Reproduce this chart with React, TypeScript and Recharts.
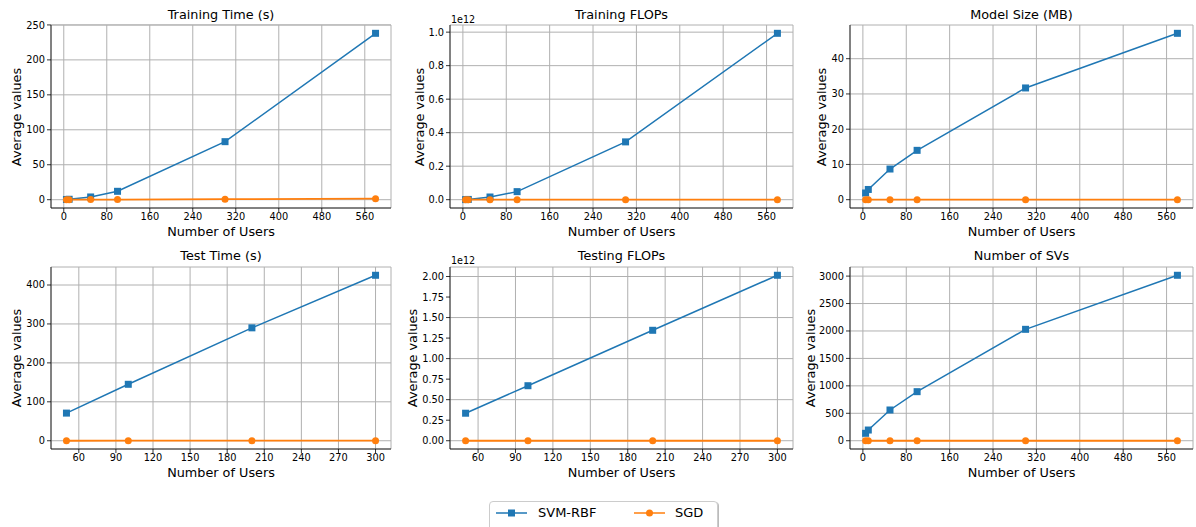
import React from 'react';
import { LineChart, Line, XAxis, YAxis, CartesianGrid } from 'recharts';

// number of users on the x axis
const usersAll = [5, 10, 50, 100, 300, 580];
const usersTest = [50, 100, 200, 300];

// series values
const svmTrainTime = [0.3, 0.6, 3.9, 12.0, 83.0, 238.0];
const sgdTrainTime = [0.01, 0.02, 0.1, 0.2, 0.7, 1.5];
const svmTrainFlops = [0.0005e12, 0.0015e12, 0.016e12, 0.048e12, 0.345e12, 0.993e12];
const sgdTrainFlops = [1e6, 2e6, 1e7, 2e7, 6e7, 1.2e8];
const svmModelSize = [1.9, 2.9, 8.7, 14.0, 31.7, 47.2];
const sgdModelSize = [0.001, 0.001, 0.001, 0.001, 0.001, 0.001];
const svmTestTime = [71, 145, 290, 425];
const sgdTestTime = [0.05, 0.1, 0.2, 0.3];
const svmTestFlops = [0.335e12, 0.67e12, 1.345e12, 2.015e12];
const sgdTestFlops = [1e6, 2e6, 4e6, 6e6];
const svmNumSVs = [135, 195, 560, 894, 2030, 3015];
const sgdNumSVs = [0, 0, 0, 0, 0, 0];

// tick labels
const xTicksAll = [0, 80, 160, 240, 320, 400, 480, 560];
const xTicksTest = [60, 90, 120, 150, 180, 210, 240, 270, 300];
const yTicksTrainTime = [0, 50, 100, 150, 200, 250];
const yTicksTrainFlops = [0, 0.2e12, 0.4e12, 0.6e12, 0.8e12, 1.0e12];
const yTicksModelSize = [0, 10, 20, 30, 40];
const yTicksTestTime = [0, 100, 200, 300, 400];
const yTicksTestFlops = [0, 0.25e12, 0.5e12, 0.75e12, 1.0e12, 1.25e12, 1.5e12, 1.75e12, 2.0e12];
const yTicksSVs = [0, 500, 1000, 1500, 2000, 2500, 3000];

const BLUE = '#1f77b4';
const ORANGE = '#ff7f0e';
const FONT = '"DejaVu Sans", sans-serif';

// matplotlib style 5% margins
const pad = (vals: number[]): [number, number] => {
  const lo = Math.min(...vals);
  const hi = Math.max(...vals);
  const m = (hi - lo) * 0.05;
  return [lo - m, hi + m];
};

const SquareDot = (props: any) => {
  const { cx, cy, index } = props;
  if (cx == null || cy == null) return <g key={index} />;
  return <rect key={index} x={cx - 3.5} y={cy - 3.5} width={7} height={7} fill={BLUE} />;
};

const CircleDot = (props: any) => {
  const { cx, cy, index } = props;
  if (cx == null || cy == null) return <g key={index} />;
  return <circle key={index} cx={cx} cy={cy} r={3.5} fill={ORANGE} />;
};

type PanelProps = {
  title: string;
  x: number;
  y: number;
  w: number;
  h: number;
  users: number[];
  svm: number[];
  sgd: number[];
  xTicks: number[];
  yTicks: number[];
  fmt: (v: number) => string;
  yLabelX: number;
  titleY: number;
  xLabelY: number;
  offsetText?: string;
  offsetY?: number;
};

const Panel = (p: PanelProps) => {
  const data = p.users.map((u, i) => ({ users: u, svm: p.svm[i], sgd: p.sgd[i] }));
  const xDomain = pad(p.users);
  const yDomain = pad([...p.svm, ...p.sgd]);
  const yw = 50;
  const top = 5;
  const tickStyle = { fontSize: 9.8, fill: '#000', fontFamily: FONT };
  const line = { stroke: '#000', strokeWidth: 0.8 };

  return (
    <>
      <div style={{ position: 'absolute', left: p.x - yw, top: p.y - top }}>
        <LineChart
          width={p.w + yw + 5}
          height={p.h + top + 30}
          data={data}
          margin={{ top, right: 5, left: 0, bottom: 0 }}
        >
          <CartesianGrid stroke="#b0b0b0" strokeWidth={1} />
          <XAxis
            dataKey="users"
            type="number"
            domain={xDomain}
            allowDataOverflow
            ticks={p.xTicks}
            height={30}
            tick={tickStyle}
            tickSize={4}
            tickMargin={1}
            tickLine={line}
            axisLine={line}
          />
          <YAxis
            type="number"
            domain={yDomain}
            allowDataOverflow
            ticks={p.yTicks}
            width={yw}
            tick={tickStyle}
            tickFormatter={p.fmt}
            tickSize={4}
            tickMargin={2}
            tickLine={line}
            axisLine={line}
          />
          <XAxis xAxisId="t" orientation="top" type="number" domain={[0, 1]} height={0} tick={false} tickLine={false} axisLine={line} />
          <YAxis yAxisId="r" orientation="right" type="number" domain={[0, 1]} width={0} tick={false} tickLine={false} axisLine={line} />
          <Line
            dataKey="svm"
            stroke={BLUE}
            strokeWidth={1.5}
            dot={SquareDot}
            activeDot={false}
            isAnimationActive={false}
          />
          <Line
            dataKey="sgd"
            stroke={ORANGE}
            strokeWidth={1.8}
            dot={CircleDot}
            activeDot={false}
            isAnimationActive={false}
          />
        </LineChart>
      </div>
      <div
        style={{
          position: 'absolute',
          left: p.x,
          width: p.w,
          top: p.titleY - 10,
          height: 20,
          lineHeight: '20px',
          textAlign: 'center',
          fontSize: 12.8,
        }}
      >
        {p.title}
      </div>
      <div
        style={{
          position: 'absolute',
          left: p.x,
          width: p.w,
          top: p.xLabelY - 10,
          height: 20,
          lineHeight: '20px',
          textAlign: 'center',
          fontSize: 12.8,
        }}
      >
        Number of Users
      </div>
      <div
        style={{
          position: 'absolute',
          left: p.yLabelX,
          top: p.y + p.h / 2,
          transform: 'translate(-50%, -50%) rotate(-90deg)',
          whiteSpace: 'nowrap',
          fontSize: 12.8,
          lineHeight: '16px',
        }}
      >
        Average values
      </div>
      {p.offsetText && (
        <div
          style={{
            position: 'absolute',
            left: p.x + 1,
            top: (p.offsetY ?? 0) - 7,
            height: 14,
            lineHeight: '14px',
            fontSize: 9.6,
          }}
        >
          {p.offsetText}
        </div>
      )}
    </>
  );
};

const fmtInt = (v: number) => `${Math.round(v)}`;
const fmtE12a = (v: number) => (v / 1e12).toFixed(1);
const fmtE12b = (v: number) => (v / 1e12).toFixed(2);

const Legend = () => (
  <div
    style={{
      position: 'absolute',
      left: 489,
      top: 501,
      width: 227,
      height: 34,
      border: '1px solid #cccccc',
      borderRadius: 4,
      boxShadow: '1px 1px 0 #bbbbbb',
      background: '#fff',
      fontSize: 13,
    }}
  >
    <svg width={40} height={14} style={{ position: 'absolute', left: 5, top: 4 }}>
      <line x1={1} y1={7} x2={32} y2={7} stroke={BLUE} strokeWidth={1.5} />
      <rect x={13} y={3.5} width={7} height={7} fill={BLUE} />
    </svg>
    <span style={{ position: 'absolute', left: 48, top: 2, lineHeight: '18px' }}>SVM-RBF</span>
    <svg width={40} height={14} style={{ position: 'absolute', left: 143, top: 4 }}>
      <line x1={1} y1={7} x2={32} y2={7} stroke={ORANGE} strokeWidth={1.5} />
      <circle cx={16.5} cy={7} r={3.5} fill={ORANGE} />
    </svg>
    <span style={{ position: 'absolute', left: 185, top: 2, lineHeight: '18px' }}>SGD</span>
  </div>
);

export default function App() {
  return (
    <div
      style={{
        position: 'absolute',
        left: 0,
        top: 0,
        width: 1196,
        height: 527,
        overflow: 'hidden',
        background: '#fff',
        fontFamily: FONT,
        color: '#000',
      }}
    >
      <Panel title="Training Time (s)" x={51} y={25} w={340} h={183} users={usersAll}
        svm={svmTrainTime} sgd={sgdTrainTime} xTicks={xTicksAll} yTicks={yTicksTrainTime}
        fmt={fmtInt} yLabelX={17} titleY={15} xLabelY={232} />
      <Panel title="Training FLOPs" x={450} y={25} w={343} h={183} users={usersAll}
        svm={svmTrainFlops} sgd={sgdTrainFlops} xTicks={xTicksAll} yTicks={yTicksTrainFlops}
        fmt={fmtE12a} yLabelX={420} titleY={15} xLabelY={232} offsetText="1e12" offsetY={20} />
      <Panel title="Model Size (MB)" x={850} y={25} w={343} h={183} users={usersAll}
        svm={svmModelSize} sgd={sgdModelSize} xTicks={xTicksAll} yTicks={yTicksModelSize}
        fmt={fmtInt} yLabelX={822} titleY={15} xLabelY={232} />
      <Panel title="Test Time (s)" x={51} y={267} w={340} h={182} users={usersTest}
        svm={svmTestTime} sgd={sgdTestTime} xTicks={xTicksTest} yTicks={yTicksTestTime}
        fmt={fmtInt} yLabelX={17} titleY={256} xLabelY={473} />
      <Panel title="Testing FLOPs" x={450} y={267} w={343} h={182} users={usersTest}
        svm={svmTestFlops} sgd={sgdTestFlops} xTicks={xTicksTest} yTicks={yTicksTestFlops}
        fmt={fmtE12b} yLabelX={413} titleY={256} xLabelY={473} offsetText="1e12" offsetY={261} />
      <Panel title="Number of SVs" x={850} y={267} w={343} h={182} users={usersAll}
        svm={svmNumSVs} sgd={sgdNumSVs} xTicks={xTicksAll} yTicks={yTicksSVs}
        fmt={fmtInt} yLabelX={811} titleY={256} xLabelY={473} />
      <Legend />
    </div>
  );
}
